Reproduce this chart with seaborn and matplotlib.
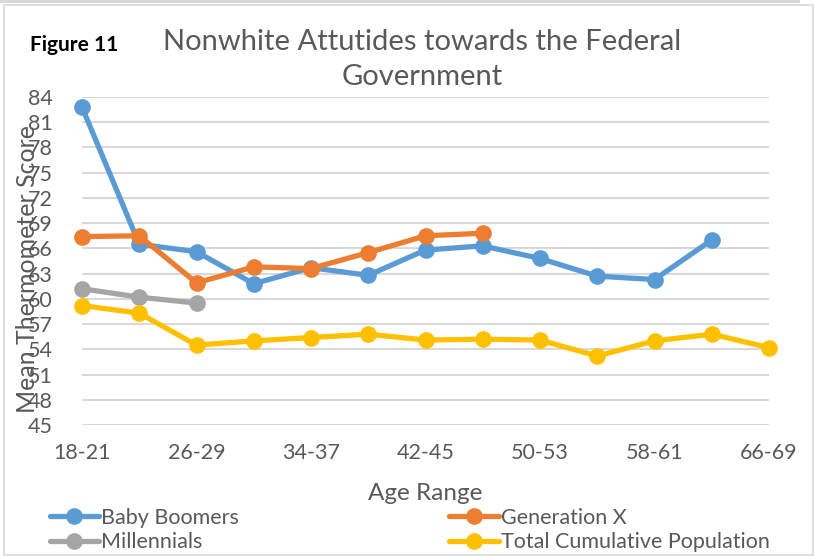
import matplotlib
matplotlib.use("Agg")
import matplotlib.pyplot as plt
import seaborn as sns
import pandas as pd
import numpy as np
from matplotlib.patches import Rectangle
from matplotlib.lines import Line2D

categories = ["18-21", "22-25", "26-29", "30-33", "34-37", "38-41", "42-45",
              "46-49", "50-53", "54-57", "58-61", "62-65", "66-69"]
baby_boomers = [82.8, 66.5, 65.6, 61.8, 63.7, 62.8, 65.8, 66.3, 64.8, 62.7, 62.3, 67.0, None]
generation_x = [67.4, 67.5, 61.9, 63.8, 63.6, 65.5, 67.5, 67.8, None, None, None, None, None]
millennials = [61.2, 60.2, 59.5, None, None, None, None, None, None, None, None, None, None]
total_pop = [59.2, 58.3, 54.5, 55.0, 55.4, 55.8, 55.1, 55.2, 55.1, 53.2, 55.0, 55.8, 54.2]
series_names = ["Baby Boomers", "Generation X", "Millennials", "Total Cumulative Population"]
y_ticks = list(range(45, 85, 3))
x_tick_labels = categories[::2]

colors = ["#5B9BD5", "#ED7D31", "#A5A5A5", "#FFC000"]

rows = []
for name, vals in zip(series_names, [baby_boomers, generation_x, millennials, total_pop]):
    for i, v in enumerate(vals):
        if v is not None:
            rows.append({"idx": i, "Age Range": categories[i], "score": v, "series": name})
df = pd.DataFrame(rows)

sns.set_theme(style="white")
plt.rcParams['font.family'] = ['Lato', 'DejaVu Sans']

fig = plt.figure(figsize=(8.14, 5.56), dpi=100)
ax = fig.add_axes([82/814, 1-425/556, (769-82)/814, (425-97)/556])

# chart frame
fig.patches.append(Rectangle((4/814, 1/556), 809/814, 550/556, transform=fig.transFigure,
                             fill=False, edgecolor="#D9D9D9", linewidth=1.2, zorder=0))
fig.patches.append(Rectangle((0, 1-3/556), 800/814, 3/556, transform=fig.transFigure,
                             facecolor="#D9D9D9", edgecolor="none", zorder=0))

sns.lineplot(data=df, x="idx", y="score", hue="series", hue_order=series_names,
             palette=colors, marker="o", markersize=12, linewidth=3.8,
             markeredgewidth=0, ax=ax, legend=False, sort=False, estimator=None)
for line in ax.lines:
    line.set_clip_on(False)
    line.set_solid_capstyle("round")

ax.set_xlim(0, 12)
ax.set_ylim(45, 84)
ax.set_yticks(y_ticks)
ax.set_xticks(range(0, 13, 2))
ax.set_xticklabels(x_tick_labels)
ax.tick_params(axis="both", labelsize=15.5, colors="#595959", length=0)
ax.tick_params(axis="x", pad=13)
ax.tick_params(axis="y", pad=21)
ax.yaxis.grid(True, color="#D9D9D9", linewidth=1.5)
ax.set_axisbelow(True)
for s in ax.spines.values():
    s.set_visible(False)

ax.set_xlabel("Age Range", fontsize=17.5, color="#595959", labelpad=14)
ax.set_ylabel("")
fig.text(28/814, 1-269/556, "Mean Thermometer Score", rotation=90, fontsize=18,
         color="#595959", ha="center", va="center")

fig.text(30/814, 1-45/556, "Figure 11", fontsize=15, fontweight="bold", color="black",
         ha="left", va="center")
fig.text(422/814, 1-42/556, "Nonwhite Attutides towards the Federal", fontsize=21,
         color="#595959", ha="center", va="center")
fig.text(422/814, 1-77/556, "Government", fontsize=21,
         color="#595959", ha="center", va="center")

order = [0, 2, 1, 3]
handles = [Line2D([0], [0], color=colors[i], linewidth=3.8, marker="o", markersize=12,
                  markeredgewidth=0) for i in order]
labels = [series_names[i] for i in order]
leg = fig.legend(handles, labels, loc="center left",
                 bbox_to_anchor=(41/814, 1-530/556), ncol=2, frameon=False,
                 fontsize=15.5, handlelength=2.3, handletextpad=0.1,
                 columnspacing=9.75, labelspacing=0.22, borderaxespad=0)
for t in leg.get_texts():
    t.set_color("#595959")

fig.savefig("out.png", dpi=100)
